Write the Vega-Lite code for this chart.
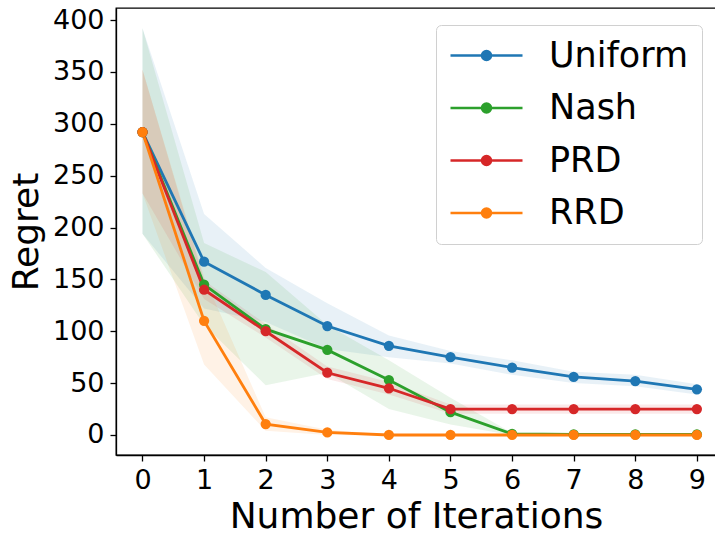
{
  "$schema": "https://vega.github.io/schema/vega-lite/v6.json",
  "width": 600,
  "height": 447,
  "autosize": "none",
  "padding": {"left": 116, "top": 8, "right": 0, "bottom": 80},
  "background": "white",
  "config": {
    "font": "DejaVu Sans",
    "view": {"stroke": "black", "strokeWidth": 1.3},
    "axis": {
      "grid": false,
      "domainColor": "black",
      "domainWidth": 1.3,
      "tickColor": "black",
      "tickWidth": 1.3,
      "tickSize": 6,
      "labelColor": "black",
      "titleColor": "black",
      "labelFont": "DejaVu Sans",
      "titleFont": "DejaVu Sans",
      "labelFontSize": 27,
      "titleFontSize": 36,
      "titleFontWeight": "normal",
      "labelPadding": 6
    }
  },
  "data": {
    "values": [
      {"it": 0, "method": "Uniform", "regret": 292, "lo": 194, "hi": 392},
      {"it": 1, "method": "Uniform", "regret": 167, "lo": 122, "hi": 213},
      {"it": 2, "method": "Uniform", "regret": 135, "lo": 109, "hi": 161},
      {"it": 3, "method": "Uniform", "regret": 105, "lo": 83, "hi": 127},
      {"it": 4, "method": "Uniform", "regret": 86, "lo": 75, "hi": 96},
      {"it": 5, "method": "Uniform", "regret": 75, "lo": 69, "hi": 81},
      {"it": 6, "method": "Uniform", "regret": 65, "lo": 58, "hi": 72},
      {"it": 7, "method": "Uniform", "regret": 56, "lo": 50, "hi": 61},
      {"it": 8, "method": "Uniform", "regret": 52, "lo": 47, "hi": 58},
      {"it": 9, "method": "Uniform", "regret": 44, "lo": 39, "hi": 49},
      {"it": 0, "method": "Nash", "regret": 292, "lo": 194, "hi": 392},
      {"it": 1, "method": "Nash", "regret": 145, "lo": 106, "hi": 185},
      {"it": 2, "method": "Nash", "regret": 102, "lo": 48, "hi": 157},
      {"it": 3, "method": "Nash", "regret": 82, "lo": 60, "hi": 106},
      {"it": 4, "method": "Nash", "regret": 53, "lo": 25, "hi": 72},
      {"it": 5, "method": "Nash", "regret": 22, "lo": 10, "hi": 36},
      {"it": 6, "method": "Nash", "regret": 1, "lo": 0, "hi": 2},
      {"it": 7, "method": "Nash", "regret": 0.5, "lo": 0, "hi": 1},
      {"it": 8, "method": "Nash", "regret": 0.5, "lo": 0, "hi": 1},
      {"it": 9, "method": "Nash", "regret": 0.5, "lo": 0, "hi": 1},
      {"it": 0, "method": "PRD", "regret": 292, "lo": 233, "hi": 352},
      {"it": 1, "method": "PRD", "regret": 140, "lo": 131, "hi": 149},
      {"it": 2, "method": "PRD", "regret": 100, "lo": 94, "hi": 107},
      {"it": 3, "method": "PRD", "regret": 60, "lo": 54, "hi": 66},
      {"it": 4, "method": "PRD", "regret": 45, "lo": 39, "hi": 51},
      {"it": 5, "method": "PRD", "regret": 25, "lo": 20.5, "hi": 29.5},
      {"it": 6, "method": "PRD", "regret": 25, "lo": 20.5, "hi": 29.5},
      {"it": 7, "method": "PRD", "regret": 25, "lo": 20.5, "hi": 29.5},
      {"it": 8, "method": "PRD", "regret": 25, "lo": 20.5, "hi": 29.5},
      {"it": 9, "method": "PRD", "regret": 25, "lo": 20.5, "hi": 29.5},
      {"it": 0, "method": "RRD", "regret": 292, "lo": 233, "hi": 352},
      {"it": 1, "method": "RRD", "regret": 110, "lo": 68, "hi": 152},
      {"it": 2, "method": "RRD", "regret": 10.5, "lo": 4, "hi": 17},
      {"it": 3, "method": "RRD", "regret": 2.5, "lo": 0, "hi": 5},
      {"it": 4, "method": "RRD", "regret": 0, "lo": -0.5, "hi": 0.5},
      {"it": 5, "method": "RRD", "regret": 0, "lo": -0.5, "hi": 0.5},
      {"it": 6, "method": "RRD", "regret": 0, "lo": -0.5, "hi": 0.5},
      {"it": 7, "method": "RRD", "regret": 0, "lo": -0.5, "hi": 0.5},
      {"it": 8, "method": "RRD", "regret": 0, "lo": -0.5, "hi": 0.5},
      {"it": 9, "method": "RRD", "regret": 0, "lo": -0.5, "hi": 0.5}
    ]
  },
  "encoding": {
    "x": {
      "field": "it",
      "type": "quantitative",
      "scale": {"domain": [-0.43, 9.31], "nice": false, "zero": false},
      "axis": {"values": [0, 1, 2, 3, 4, 5, 6, 7, 8, 9], "labelAngle": 0, "title": "Number of Iterations", "titlePadding": 6}
    },
    "color": {
      "field": "method",
      "type": "nominal",
      "scale": {"domain": ["Uniform", "Nash", "PRD", "RRD"], "range": ["#1f77b4", "#2ca02c", "#d62728", "#ff7f0e"]}
    }
  },
  "layer": [
    {
      "mark": {"type": "area", "fillOpacity": 0.1, "strokeWidth": 0},
      "encoding": {
        "y": {
          "field": "lo",
          "type": "quantitative",
          "scale": {"domain": [-19.3, 411.6], "nice": false, "zero": false},
          "axis": {"values": [0, 50, 100, 150, 200, 250, 300, 350, 400], "title": "Regret", "titlePadding": 7}
        },
        "y2": {"field": "hi"}
      }
    },
    {
      "mark": {"type": "line", "strokeWidth": 2.8, "point": {"filled": true, "size": 105, "opacity": 1}},
      "encoding": {
        "y": {"field": "regret", "type": "quantitative"},
        "color": {
          "field": "method",
          "type": "nominal",
          "scale": {"domain": ["Uniform", "Nash", "PRD", "RRD"], "range": ["#1f77b4", "#2ca02c", "#d62728", "#ff7f0e"]},
          "legend": {
            "title": null,
            "orient": "none",
            "legendX": 320,
            "legendY": 17,
            "direction": "vertical",
            "fillColor": "white",
            "strokeColor": "#d0d0d0",
            "cornerRadius": 5,
            "padding": 13,
            "rowPadding": 16.5,
            "labelFont": "DejaVu Sans",
            "labelFontSize": 35,
            "labelColor": "black",
            "labelLimit": 400,
            "symbolType": "M-6,0H6M0.75,0A0.75,0.75,0,1,1,-0.75,0A0.75,0.75,0,1,1,0.75,0Z",
            "symbolSize": 144,
            "symbolStrokeWidth": 2.5,
            "symbolOffset": 20,
            "labelOffset": 45,
            "encode": {
              "symbols": {
                "update": {
                  "fill": {"scale": "color", "field": "value"},
                  "stroke": {"scale": "color", "field": "value"},
                  "strokeWidth": {"value": 2.5},
                  "opacity": {"value": 1},
                  "fillOpacity": {"value": 1},
                  "strokeOpacity": {"value": 1}
                }
              }
            }
          }
        }
      }
    }
  ]
}
